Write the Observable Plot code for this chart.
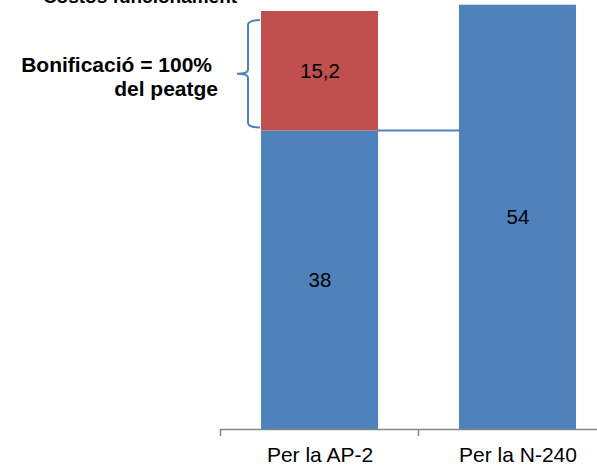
<!DOCTYPE html>
<html><head><meta charset="utf-8">
<script src="https://cdn.jsdelivr.net/npm/d3@7"></script>
<script src="https://cdn.jsdelivr.net/npm/@observablehq/plot@0.6"></script>
<style>body{margin:0;background:#fff} svg{display:block}</style>
</head><body><div id="chart"></div>
<script>
const categories = ["Per la AP-2", "Per la N-240"];
const series = ["Costos funcionament", "Bonificació"];
const costValues = [38, 54];
const bonusValues = [15.2, 0];
const chartTitle = "Costos funcionament";
const bonusLabel = ["Bonificació = 100%", "del peatge"];
const blue = "#4f81bd", red = "#c0504d";

const rows = [];
categories.forEach((c, i) => {
  rows.push({cat: c, serie: series[0], value: costValues[i]});
  if (bonusValues[i] > 0) rows.push({cat: c, serie: series[1], value: bonusValues[i]});
});
const fmt = v => String(v).replace(".", ",");
const pIn = 0.41;

function annotations(index, scales, values, dims) {
  const {x, y} = scales;
  const step = x(categories[1]) - x(categories[0]);
  const bw = step * (1 - pIn);
  const g = d3.create("svg:g");
  const base = y(0);
  for (let i = 0; i <= categories.length; i++) {
    const bx = Math.round(x(categories[0]) - step * pIn / 2 + i * step) + 0.5;
    g.append("line").attr("x1", bx).attr("x2", bx).attr("y1", base).attr("y2", base + 7)
      .attr("stroke", "#868686").attr("stroke-width", 1.5);
  }
  // connector at top of blue AP-2 segment
  const yc = y(costValues[0]);
  g.append("line").attr("x1", x(categories[0]) + bw).attr("x2", x(categories[1]))
    .attr("y1", yc).attr("y2", yc).attr("stroke", blue).attr("stroke-width", 2);
  // bracket
  const x0 = x(categories[0]) - 13;
  const hook = x0 + 12, notch = x0 - 11;
  const top = y(costValues[0] + bonusValues[0]) + 9;
  const bot = y(costValues[0]) - 3;
  const mid = (top + bot) / 2;
  const p = `M${hook},${top} Q${x0},${top} ${x0},${top + 5} L${x0},${mid - 4} Q${x0},${mid} ${notch},${mid} Q${x0},${mid} ${x0},${mid + 4} L${x0},${bot - 5} Q${x0},${bot} ${hook},${bot}`;
  g.append("path").attr("d", p).attr("fill", "none").attr("stroke", blue).attr("stroke-width", 2);
  // bracket label
  const t = g.append("text").attr("text-anchor", "end").attr("font-weight", "bold")
    .attr("font-size", 21).attr("fill", "#000");
  t.append("tspan").attr("x", notch - 25).attr("y", mid - 2).text(bonusLabel[0]);
  t.append("tspan").attr("x", notch - 19).attr("y", mid + 22).text(bonusLabel[1]);
  // cropped title (only its lower edge shows, as in the reference)
  g.append("text").attr("x", 140).attr("y", 3).attr("text-anchor", "middle")
    .attr("font-weight", "bold").attr("font-size", 19).attr("fill", "#000").text(chartTitle);
  return g.node();
}

const plot = Plot.plot({
  width: 597, height: 465,
  marginLeft: 220, marginRight: 0, marginTop: 0, marginBottom: 36,
  style: {fontFamily: "'Liberation Sans', Arial, sans-serif", background: "#fff"},
  x: {domain: categories, range: [220, 616], paddingInner: pIn, paddingOuter: pIn / 2, axis: null},
  y: {domain: [0, 54.6], axis: null},
  color: {domain: series, range: [blue, red]},
  marks: [
    Plot.barY(rows, {x: "cat", y: "value", fill: "serie", order: series}),
    Plot.text(rows, Plot.stackY({x: "cat", y: "value", z: "serie", order: series,
      text: d => fmt(d.value), fontSize: 20.5, fill: "#000"})),
    Plot.ruleY([0], {stroke: "#868686", strokeWidth: 1.5}),
    Plot.axisX({tickSize: 0, tickPadding: 18, fontSize: 21, label: null}),
    annotations
  ]
});
document.getElementById("chart").append(plot);
</script>
</body></html>
